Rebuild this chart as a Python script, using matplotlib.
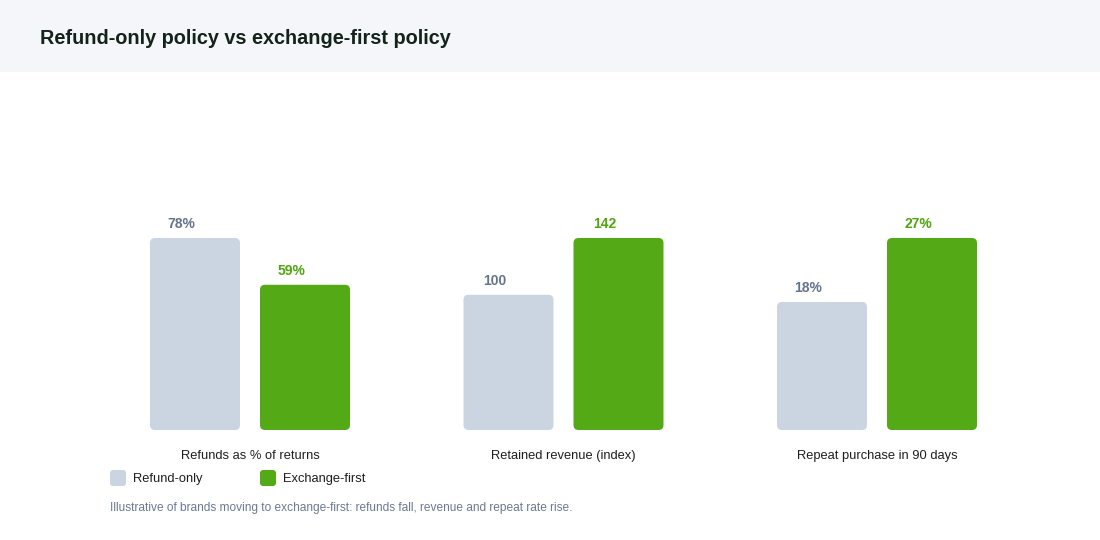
import matplotlib.pyplot as plt
from matplotlib.patches import FancyBboxPatch, Rectangle

# data
categories = ["Refunds as % of returns", "Retained revenue (index)", "Repeat purchase in 90 days"]
refund_only = [78, 100, 18]
exchange_first = [59, 142, 27]
value_labels_refund = ["78%", "100", "18%"]
value_labels_exchange = ["59%", "142", "27%"]
series_names = ["Refund-only", "Exchange-first"]

GREY = "#cbd5e1"
GREEN = "#53a916"
GREY_TXT = "#64748b"
GREEN_TXT = "#4ea50f"
FONT = "Liberation Sans"

W, H = 1100, 540
fig = plt.figure(figsize=(W / 100, H / 100), dpi=100)
fig.patch.set_facecolor("white")

# header band
fig.patches.append(Rectangle((0, 1 - 72 / H), 1, 72 / H, transform=fig.transFigure,
                             facecolor="#f5f6f9", edgecolor="none", zorder=0))
fig.text(40 / W, 1 - 39 / H, "Refund-only policy vs exchange-first policy",
         fontsize=14.3, fontweight="bold", color="#14231a", family=FONT, va="center")

# axes: group spacing 313.5 px, first group centre at 250 px, baseline at 430 px
unit = 313.5
ax_bottom_px, ax_top_px = 430, 200
ax = fig.add_axes([0, 1 - ax_bottom_px / H, 1, (ax_bottom_px - ax_top_px) / H])
ax.set_xlim(-250 / unit, (W - 250) / unit)
ymax = (ax_bottom_px - ax_top_px) / 192
ax.set_ylim(0, ymax)
ax.axis("off")

px_y = ymax / (ax_bottom_px - ax_top_px)
bar_w = 90 / unit
off = 55 / unit
aspect = unit * px_y
rad = 5 / unit
lab_shift = -14 / unit
lab_pad = 14 * px_y

for i, cat in enumerate(categories):
    m = max(refund_only[i], exchange_first[i])
    for val, txt, col, tcol, dx in [
        (refund_only[i], value_labels_refund[i], GREY, GREY_TXT, -off),
        (exchange_first[i], value_labels_exchange[i], GREEN, GREEN_TXT, off),
    ]:
        h = val / m
        x0 = i + dx - bar_w / 2
        ax.add_patch(FancyBboxPatch((x0, 0), bar_w, h,
                                    boxstyle=f"round,pad=0,rounding_size={rad}",
                                    mutation_aspect=aspect, facecolor=col, edgecolor="none"))
        ax.text(i + dx + lab_shift, h + lab_pad, txt, ha="center", va="center",
                fontsize=10, fontweight="bold", color=tcol, family=FONT)
    ax.text(i, -26 * px_y, cat, ha="center", va="center",
            fontsize=9.3, color="#1e1e1e", family=FONT)

# legend
for x_px, col, name in [(110, GREY, series_names[0]), (260, GREEN, series_names[1])]:
    fig.patches.append(FancyBboxPatch((x_px / W, 1 - 486 / H), 16 / W, 16 / H,
                                      boxstyle=f"round,pad=0,rounding_size={3 / W}",
                                      mutation_aspect=W / H, transform=fig.transFigure,
                                      facecolor=col, edgecolor="none"))
    fig.text((x_px + 23) / W, 1 - 479 / H, name, fontsize=9.3, color="#1e1e1e",
             family=FONT, va="center")

fig.text(110 / W, 1 - 508 / H,
         "Illustrative of brands moving to exchange-first: refunds fall, revenue and repeat rate rise.",
         fontsize=8.6, color="#6b7a90", family=FONT, va="center")

fig.savefig("out.png", dpi=100)
